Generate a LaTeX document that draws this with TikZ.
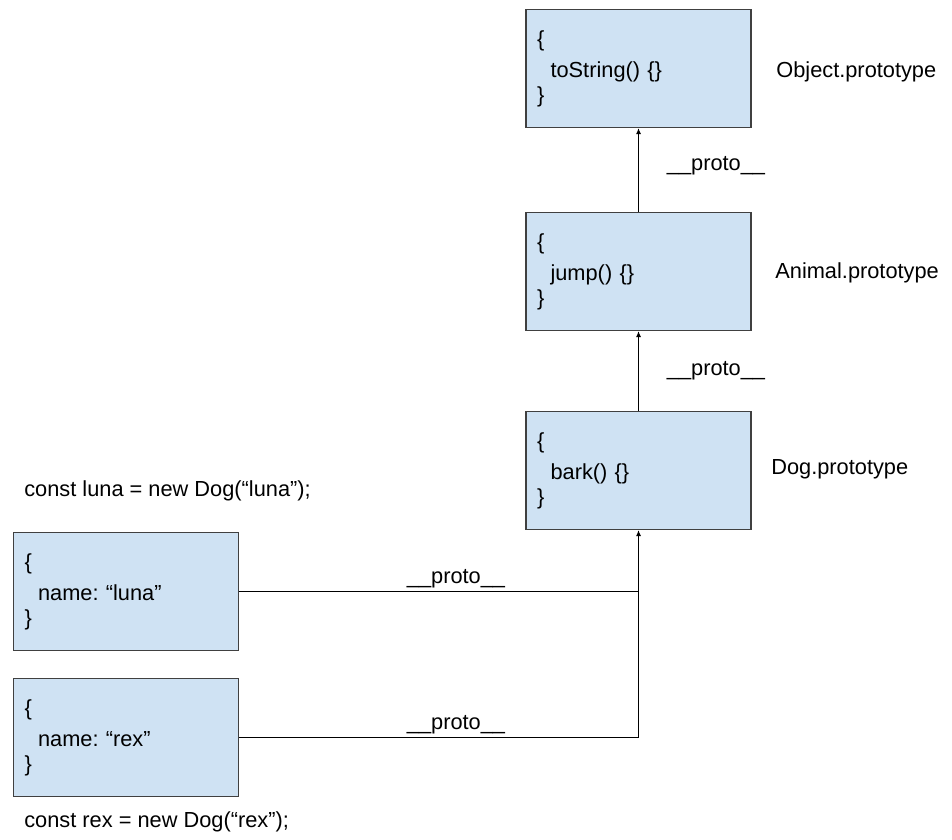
\documentclass[tikz,border=0pt]{standalone}
\usepackage{fontspec}
\setmainfont{Liberation Sans}
\usetikzlibrary{positioning,arrows.meta}
\definecolor{cfill}{HTML}{cfe2f3}
\definecolor{cline}{HTML}{404040}
\newcommand{\ind}{\hspace*{0.62em}}
\frenchspacing

\begin{document}
\begin{tikzpicture}[x=0.02cm, y=-0.02cm,
    every node/.style={font=\fontsize{12.4}{14.2}\selectfont},
    objbox/.style={draw=cline, line width=0.7pt, fill=cfill, align=left,
      inner xsep=0.22cm, text width=4.06cm, minimum height=2.36cm,
      execute at begin node={\vspace*{0.12cm}}},
    tag/.style={inner sep=0pt, anchor=west},
    proto/.style={-{Latex[length=3.4pt,width=2.9pt]}, line width=0.6pt},
    link/.style={line width=0.6pt}]
  \useasboundingbox (0,0) rectangle (952,839);
  % prototype chain, top to bottom
  \node[objbox] (objproto) at (638.5,68.5) {\{\\\ind toString() \{\}\\\}};
  \node[objbox] (animal) at (638.5,271.5) {\{\\\ind jump() \{\}\\\}};
  \node[objbox] (dog) at (638.5,470.5) {\{\\\ind bark() \{\}\\\}};
  \node[tag] (objname) at (776,72) {Object.prototype};
  \node[tag] (animalname) at (775,273) {Animal.prototype};
  \node[tag] (dogname) at (771,469) {Dog.prototype};
  % the two instances
  \node[objbox] (luna) at (126,591.5) {\{\\\ind name: “luna”\\\}};
  \node[objbox] (rex) at (126,737.5) {\{\\\ind name: “rex”\\\}};
  \node[tag] (lunacode) at (24,491) {const luna = new Dog(“luna”);};
  \node[tag] (rexcode) at (24,822) {const rex = new Dog(“rex”);};
  % __proto__ links
  \node (p1) at (716,166) {\_\_proto\_\_};
  \node (p2) at (716,371) {\_\_proto\_\_};
  \node (p3) at (456,579) {\_\_proto\_\_};
  \node (p4) at (456,725) {\_\_proto\_\_};
  \draw[proto] (animal.north) -- (objproto.south);
  \draw[proto] (dog.north) -- (animal.south);
  \draw[link] (luna.east) -- (luna.east -| dog.south);
  \draw[proto] (rex.east) -| (dog.south);
\end{tikzpicture}
\end{document}
